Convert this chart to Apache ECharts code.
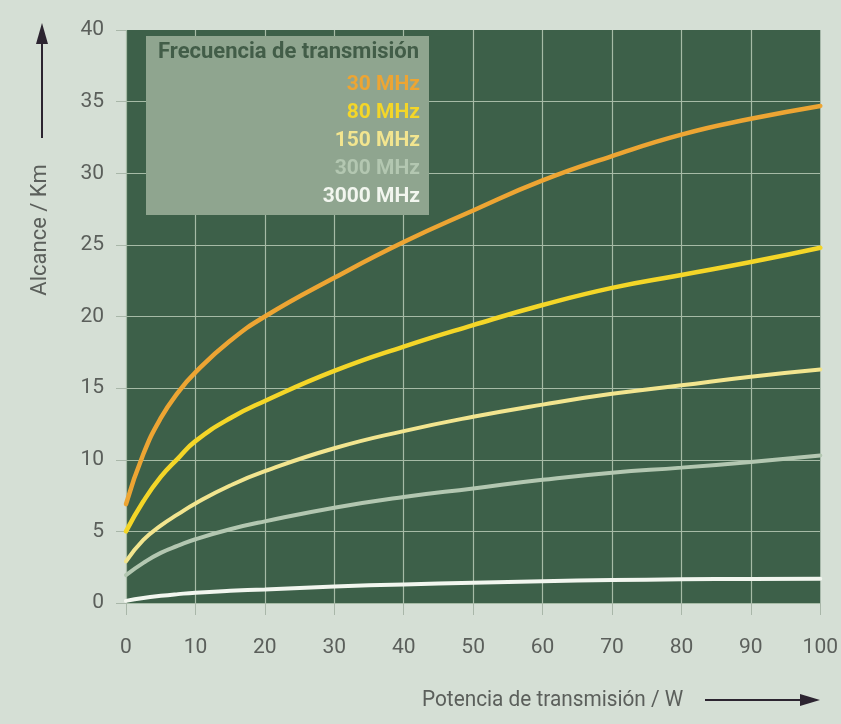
<!DOCTYPE html>
<html>
<head>
<meta charset="utf-8">
<title>Alcance frente a potencia de transmisión</title>
<script src="https://cdn.jsdelivr.net/npm/echarts@6/dist/echarts.min.js"></script>
<style>
  html, body { margin: 0; padding: 0; background: #d5dfd5; }
  #chart { width: 841px; height: 724px; }
</style>
</head>
<body>
<div id="chart"></div>
<script>
// Transmission power (W) at which each curve is sampled
const potencia = [0, 2.5, 5, 7.5, 10, 15, 20, 30, 40, 50, 60, 70, 80, 90, 100];

// Range (km) per transmission frequency
const alcance30 = [6.9, 10.4, 12.9, 14.7, 16.1, 18.3, 20.0, 22.7, 25.2, 27.4, 29.5, 31.2, 32.7, 33.8, 34.7];
const alcance80 = [5.0, 7.1, 8.8, 10.1, 11.3, 12.9, 14.1, 16.2, 17.9, 19.4, 20.8, 22.0, 22.9, 23.8, 24.8];
const alcance150 = [2.9, 4.4, 5.4, 6.2, 6.95, 8.2, 9.2, 10.8, 12.0, 13.0, 13.85, 14.6, 15.2, 15.8, 16.3];
const alcance300 = [1.95, 2.8, 3.5, 4.0, 4.45, 5.15, 5.7, 6.65, 7.4, 8.0, 8.6, 9.1, 9.45, 9.85, 10.3];
const alcance3000 = [0.15, 0.35, 0.5, 0.62, 0.72, 0.85, 0.95, 1.15, 1.3, 1.42, 1.52, 1.6, 1.65, 1.68, 1.7];

const frecuencias = ['30 MHz', '80 MHz', '150 MHz', '300 MHz', '3000 MHz'];
const colores = ['#eda533', '#f4d628', '#f2e58f', '#b3c7b1', '#f2f6ef'];
const grosores = [4.5, 4.5, 4, 4, 4];
const valores = [alcance30, alcance80, alcance150, alcance300, alcance3000];

const xTicks = [0, 10, 20, 30, 40, 50, 60, 70, 80, 90, 100];
const yTicks = [0, 5, 10, 15, 20, 25, 30, 35, 40];

const fuente = "Roboto, 'Liberation Sans', sans-serif";
const gris = '#5b5f5b';
const rejilla = '#a6bba6';

const chart = echarts.init(document.getElementById('chart'));

const series = frecuencias.map((nombre, i) => ({
  name: nombre,
  type: 'line',
  smooth: true,
  showSymbol: false,
  symbol: 'none',
  data: potencia.map((p, k) => [p, valores[i][k]]),
  lineStyle: { color: colores[i], width: grosores[i], cap: 'round' },
  itemStyle: { color: colores[i] },
  z: 10 - i
}));

chart.setOption({
  backgroundColor: '#d5dfd5',
  animation: false,
  grid: {
    left: 126, right: 18, top: 30, bottom: 121,
    show: true, backgroundColor: '#3d6049', borderWidth: 0
  },
  xAxis: {
    type: 'value', min: xTicks[0], max: xTicks[xTicks.length - 1], interval: 10,
    axisLine: { show: false },
    axisTick: { show: true, length: 12, lineStyle: { color: '#a9b7a9', width: 1 } },
    axisLabel: { margin: 34, color: gris, fontFamily: fuente, fontSize: 21 },
    splitLine: { show: true, showMaxLine: false, lineStyle: { color: rejilla, width: 1.2 } }
  },
  yAxis: {
    type: 'value', min: yTicks[0], max: yTicks[yTicks.length - 1], interval: 5,
    axisLine: { show: false },
    axisTick: { show: true, length: 10, lineStyle: { color: '#a9b7a9', width: 1 } },
    axisLabel: { margin: 22, color: gris, fontFamily: fuente, fontSize: 21 },
    splitLine: { show: true, showMaxLine: false, lineStyle: { color: rejilla, width: 1.2 } }
  },
  legend: {
    orient: 'vertical',
    right: 411,
    top: 69,
    align: 'right',
    icon: 'none',
    itemWidth: 0,
    itemHeight: 10,
    itemGap: 7,
    z: 20,
    selectedMode: false,
    textStyle: { fontFamily: fuente, fontSize: 21, fontWeight: 'bold' },
    data: frecuencias.map((n, i) => ({ name: n, textStyle: { color: colores[i] } }))
  },
  graphic: [
    // legend panel
    { type: 'rect', shape: { x: 146, y: 36, width: 283, height: 179 },
      style: { fill: '#8fa58f' }, z: 5 },
    { type: 'text', x: 158, y: 41, z: 6,
      style: { text: 'Frecuencia de transmisión', fill: '#425d48',
               font: "bold 22px " + fuente } },
    // vertical axis title with arrow
    { type: 'text', z: 6, x: 40, y: 230, rotation: Math.PI / 2,
      style: { text: 'Alcance / Km', fill: gris, font: "22px " + fuente,
               align: 'center', verticalAlign: 'middle' } },
    { type: 'line', z: 6, shape: { x1: 42, y1: 138, x2: 42, y2: 40 },
      style: { stroke: '#2c2430', lineWidth: 2 } },
    { type: 'polygon', z: 6, shape: { points: [[42, 23], [36, 44], [48, 44]] },
      style: { fill: '#2c2430' } },
    // horizontal axis title with arrow
    { type: 'text', z: 6, x: 422, y: 689, scaleX: 0.945,
      style: { text: 'Potencia de transmisión / W', fill: gris, font: "22px " + fuente } },
    { type: 'line', z: 6, shape: { x1: 705, y1: 700, x2: 802, y2: 700 },
      style: { stroke: '#2c2430', lineWidth: 2 } },
    { type: 'polygon', z: 6, shape: { points: [[820, 700], [800, 694], [800, 706]] },
      style: { fill: '#2c2430' } }
  ],
  series: series
});
</script>
</body>
</html>
